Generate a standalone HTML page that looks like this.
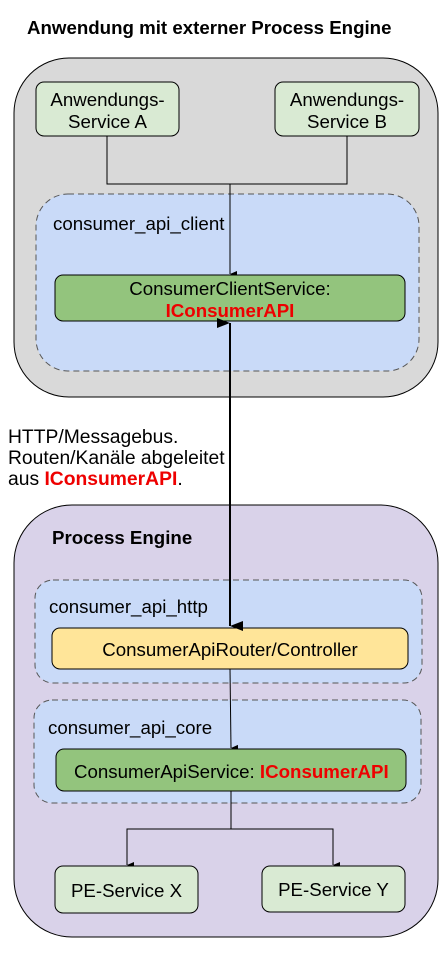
<!DOCTYPE html>
<html><head><meta charset="utf-8"><style>
body{margin:0;background:#fff;width:447px;height:948px;overflow:hidden}
svg text{font-family:"Liberation Sans",Arial,sans-serif}
</style></head><body>
<svg width="447" height="948" viewBox="0 0 447 948" xmlns="http://www.w3.org/2000/svg">
<defs>
<marker id="a" markerWidth="8" markerHeight="8" refX="4" refY="7" orient="auto-start-reverse" markerUnits="userSpaceOnUse"><path d="M1,0 L4,7 L7,0 z" fill="#000"/></marker>
<marker id="b" markerWidth="12" markerHeight="14" refX="6" refY="13" orient="auto-start-reverse" markerUnits="userSpaceOnUse"><path d="M1,0 L6,13 L11,0 z" fill="#000"/></marker>
</defs>
<text x="27" y="34" font-size="18.7" font-weight="bold">Anwendung mit externer Process Engine</text>
<rect x="14" y="58" width="424" height="339" rx="55" fill="#d9d9d9" stroke="#000" stroke-width="1"/>
<rect x="36" y="82" width="143" height="54" rx="8" fill="#d9ead3" stroke="#000"/>
<rect x="275" y="82" width="144" height="54" rx="8" fill="#d9ead3" stroke="#000"/>
<text x="107.5" y="106" font-size="18.7" text-anchor="middle">Anwendungs-</text>
<text x="107.5" y="128" font-size="18.7" text-anchor="middle">Service A</text>
<text x="347" y="106" font-size="18.7" text-anchor="middle">Anwendungs-</text>
<text x="347" y="128" font-size="18.7" text-anchor="middle">Service B</text>
<rect x="36" y="194" width="383" height="177" rx="32" fill="#c9daf8" stroke="#555" stroke-dasharray="6,4"/>
<text x="53" y="230" font-size="18.7">consumer_api_client</text>
<path d="M107,136 V184 H347 V136" fill="none" stroke="#000"/>
<line x1="230" y1="184" x2="230" y2="274" stroke="#000" marker-end="url(#a)"/>
<rect x="55" y="275" width="350" height="46" rx="8" fill="#93c47d" stroke="#000"/>
<text x="230" y="295" font-size="18.7" text-anchor="middle">ConsumerClientService:</text>
<text x="230" y="317" font-size="18.7" font-weight="bold" fill="#e00" text-anchor="middle">IConsumerAPI</text>
<rect x="14" y="505" width="424" height="432" rx="58" fill="#d9d2e9" stroke="#000"/>
<text x="52" y="544" font-size="18.7" font-weight="bold">Process Engine</text>
<rect x="35" y="580" width="387" height="103" rx="18" fill="#c9daf8" stroke="#555" stroke-dasharray="6,4"/>
<text x="49" y="613" font-size="18.7">consumer_api_http</text>
<rect x="52" y="628" width="356" height="41" rx="8" fill="#ffe599" stroke="#000"/>
<text x="230" y="656" font-size="18.7" text-anchor="middle">ConsumerApiRouter/Controller</text>
<rect x="34" y="700" width="387" height="103" rx="18" fill="#c9daf8" stroke="#555" stroke-dasharray="6,4"/>
<text x="48" y="734" font-size="18.7">consumer_api_core</text>
<line x1="230" y1="669" x2="231" y2="748" stroke="#000" marker-end="url(#a)"/>
<rect x="56" y="749" width="350" height="42" rx="8" fill="#93c47d" stroke="#000"/>
<text x="74" y="778" font-size="18.7">ConsumerApiService: <tspan font-weight="bold" fill="#e00">IConsumerAPI</tspan></text>
<line x1="230" y1="323" x2="230" y2="626" stroke="#000" stroke-width="2" marker-start="url(#b)" marker-end="url(#b)"/>
<path d="M231,791 V829" fill="none" stroke="#000"/>
<path d="M127,865 V829 H333 V865" fill="none" stroke="#000"/>
<line x1="127" y1="850" x2="127" y2="865" stroke="#000" marker-end="url(#a)"/>
<line x1="333" y1="850" x2="333" y2="865" stroke="#000" marker-end="url(#a)"/>
<rect x="55" y="866" width="143" height="47" rx="8" fill="#d9ead3" stroke="#000"/>
<rect x="262" y="866" width="143" height="46" rx="8" fill="#d9ead3" stroke="#000"/>
<text x="126.5" y="897" font-size="18.7" text-anchor="middle">PE-Service X</text>
<text x="333.5" y="896" font-size="18.7" text-anchor="middle">PE-Service Y</text>
<text x="8" y="443" font-size="19.3">HTTP/Messagebus.</text>
<text x="8" y="464" font-size="19.3">Routen/Kanäle abgeleitet</text>
<text x="8" y="485" font-size="19.3">aus <tspan font-weight="bold" fill="#e00">IConsumerAPI</tspan>.</text>
</svg>
</body></html>
